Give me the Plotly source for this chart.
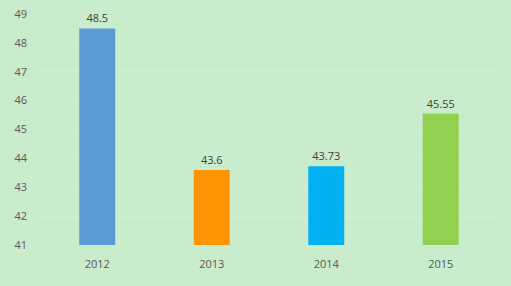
import plotly.graph_objects as go

years = ["2012", "2013", "2014", "2015"]
values = [48.5, 43.6, 43.73, 45.55]
labels = ["48.5", "43.6", "43.73", "45.55"]
colors = ["#5B9BD5", "#FF9300", "#00B0F0", "#92D050"]
base_val = 41

fig = go.Figure(go.Bar(
    x=years,
    y=[v - base_val for v in values],
    base=base_val,
    marker=dict(color=colors, line=dict(width=0)),
    text=labels,
    textposition="outside",
    textfont=dict(size=11, color="#404040", family="Open Sans"),
    cliponaxis=False,
    width=0.314,
))

fig.update_layout(
    width=511, height=286,
    margin=dict(l=40, r=13, t=14, b=41, autoexpand=False),
    paper_bgcolor="#C8ECCC",
    plot_bgcolor="#C8ECCC",
    showlegend=False,
    font=dict(family="Open Sans", size=11, color="#595959"),
    xaxis=dict(showgrid=False, showline=False, ticks="", tickfont=dict(size=11, color="#595959"),
               ticklabelstandoff=11),
    yaxis=dict(range=[41, 49], dtick=1, showgrid=True, gridcolor="#D0EFD3", gridwidth=1,
               zeroline=False, showline=False, ticks="", tickfont=dict(size=11, color="#595959"),
               ticklabelstandoff=12),
)

fig.write_html("out.html")
